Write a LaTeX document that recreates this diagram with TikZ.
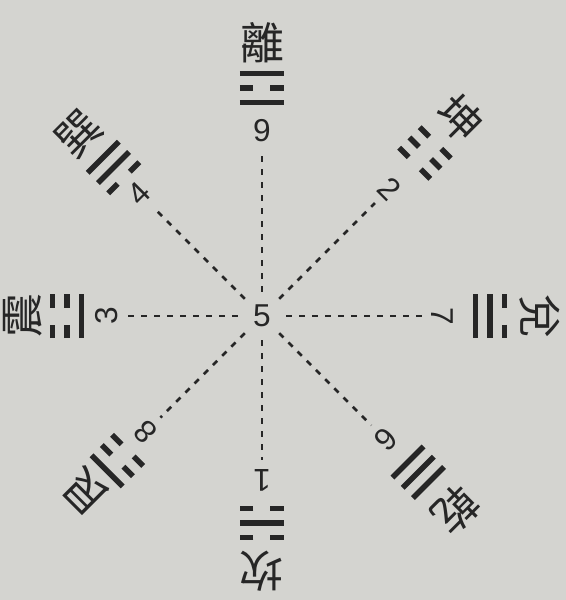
\documentclass[tikz,border=0pt]{standalone}
\usepackage{fontspec}
\newfontfamily\cjk{Noto Sans CJK TC}
\newfontfamily\numfont{Liberation Sans}
\definecolor{paper}{RGB}{212,212,208}
\definecolor{ink}{RGB}{38,38,38}
\tikzset{
  num/.style={circle,inner sep=0pt,minimum size=0.8cm,text=ink,
    font=\numfont\fontsize{18}{18}\selectfont},
  gua/.style={inner sep=0pt,text=ink,font=\cjk\fontsize{25}{25}\selectfont},
  yao/.style={draw=ink,line width=0.11cm},
  trigram/.pic={
    \foreach \v [count=\k from -1] in {#1} {
      \ifnum\v=1
        \draw[yao] (-0.44,\k*0.29) -- (0.44,\k*0.29);
      \else
        \draw[yao] (-0.44,\k*0.29) -- (-0.17,\k*0.29)
                   (0.17,\k*0.29) -- (0.44,\k*0.29);
      \fi
    }
  }
}
\begin{document}
\begin{tikzpicture}
  \fill[paper] (-5.24,-5.68) rectangle (6.08,6.32);
  \useasboundingbox (-5.24,-5.68) rectangle (6.08,6.32);
  \node[num,minimum size=0.96cm] (5) at (0,0) {5};
  \draw
    (90:3.70) node[num] (9){9}
    (45:3.60) node[num,rotate=-45] (2){2}
    (0:3.60) node[num,rotate=-90] (7){7}
    (-45:3.50) node[num,rotate=-135] (6){6}
    (-90:3.28) node[num,rotate=180] (1){1}
    (225:3.28) node[num,rotate=135] (8){8}
    (180:3.10) node[num,rotate=90] (3){3}
    (135:3.47) node[num,rotate=45] (4){4};
  \draw
    (90:5.46) node[gua] (li){離}
    (45:5.60) node[gua,rotate=-45] (kun){坤}
    (0:5.56) node[gua,rotate=-90] (dui){兌}
    (-45:5.49) node[gua,rotate=-135] (qian){乾}
    (-90:5.10) node[gua,rotate=180] (kan){坎}
    (225:4.97) node[gua,rotate=135] (gen){艮}
    (180:4.78) node[gua,rotate=90] (zhen){震}
    (135:5.17) node[gua,rotate=45] (xun){巽};
  % trigrams, bottom line first (nearest the centre)
  \pic at (90:4.56) {trigram={1,0,1}};
  \pic[rotate=-45] at (45:4.61) {trigram={0,0,0}};
  \pic[rotate=-90] at (0:4.56) {trigram={1,1,0}};
  \pic[rotate=-135] at (-45:4.42) {trigram={1,1,1}};
  \pic[rotate=180] at (-90:4.14) {trigram={0,1,0}};
  \pic[rotate=135] at (225:4.09) {trigram={0,0,1}};
  \pic[rotate=90] at (180:3.90) {trigram={1,0,0}};
  \pic[rotate=45] at (135:4.20) {trigram={0,1,1}};
  \begin{scope}[ink,line width=0.05cm,dash pattern=on 0.12cm off 0.14cm]
    \draw (5) to (9);
    \draw (5) to (2);
    \draw (5) to (7);
    \draw (5) to (6);
    \draw (5) to (1);
    \draw (5) to (8);
    \draw (5) to (3);
    \draw (5) to (4);
  \end{scope}
\end{tikzpicture}
\end{document}
